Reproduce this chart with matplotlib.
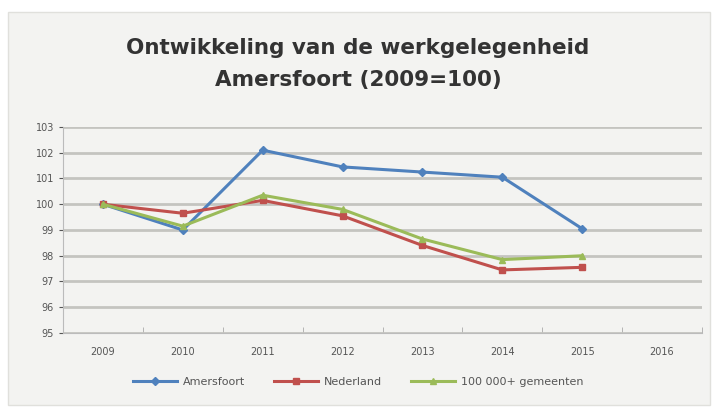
import matplotlib.pyplot as plt
from matplotlib.patches import Rectangle
import numpy as np

# data
years = ["2009", "2010", "2011", "2012", "2013", "2014", "2015", "2016"]
amersfoort = [100.0, 99.0, 102.1, 101.45, 101.25, 101.05, 99.05]
nederland = [100.0, 99.65, 100.15, 99.55, 98.4, 97.45, 97.55]
gemeenten = [100.0, 99.15, 100.35, 99.8, 98.65, 97.85, 98.0]

fig = plt.figure(figsize=(7.16, 4.15), dpi=100)
fig.patch.set_facecolor("white")
# chart area background
fig.patches.append(Rectangle((8 / 716, 1 - 405 / 415), 702 / 716, 393 / 415,
                             transform=fig.transFigure, facecolor="#f3f3f1",
                             edgecolor="#e0e0dc", linewidth=1, zorder=-10))

ax = fig.add_axes([63 / 716, 1 - 333 / 415, 639 / 716, 206 / 415])
ax.set_facecolor("#f3f3f1")

x = np.arange(len(amersfoort))
ax.plot(x, amersfoort, color="#4f81bd", marker="D", markersize=4, linewidth=2.2, label="Amersfoort", zorder=3)
ax.plot(x, nederland, color="#c0504d", marker="s", markersize=4, linewidth=2.2, label="Nederland", zorder=3)
ax.plot(x, gemeenten, color="#9bbb59", marker="^", markersize=5, linewidth=2.2, label="100 000+ gemeenten", zorder=3)

ax.set_xlim(-0.5, len(years) - 0.5)
ax.set_ylim(95, 103)
ax.set_yticks(range(95, 104))
ax.set_xticks(range(len(years)))
ax.set_xticklabels(years)
ax.set_xticks(np.arange(-0.5, len(years)), minor=True)
ax.tick_params(axis="x", which="major", length=0, labelsize=7, colors="#555555", pad=10)
ax.tick_params(axis="x", which="minor", length=4, color="#aaaaaa", direction="in")
ax.tick_params(axis="y", length=3, labelsize=7, colors="#555555", direction="out")
ax.grid(axis="y", color="#c4c4c0", linewidth=2.0)
ax.set_axisbelow(True)
for s in ["top", "right"]:
    ax.spines[s].set_visible(False)
ax.spines["left"].set_color("#bbbbbb")
ax.spines["bottom"].set_color("#bbbbbb")

fig.text(0.5, 1 - 48 / 415, "Ontwikkeling van de werkgelegenheid", ha="center", va="center",
         fontsize=15.5, fontweight="bold", color="#333333")
fig.text(0.5, 1 - 80 / 415, "Amersfoort (2009=100)", ha="center", va="center",
         fontsize=15.5, fontweight="bold", color="#333333")

fig.legend(loc="center", bbox_to_anchor=(0.5, 1 - 382 / 415), ncol=3, frameon=False,
           fontsize=8, labelcolor="#555555", handlelength=4, handletextpad=0.5, columnspacing=2.6)

fig.savefig("out.png", dpi=100, facecolor=fig.get_facecolor())
